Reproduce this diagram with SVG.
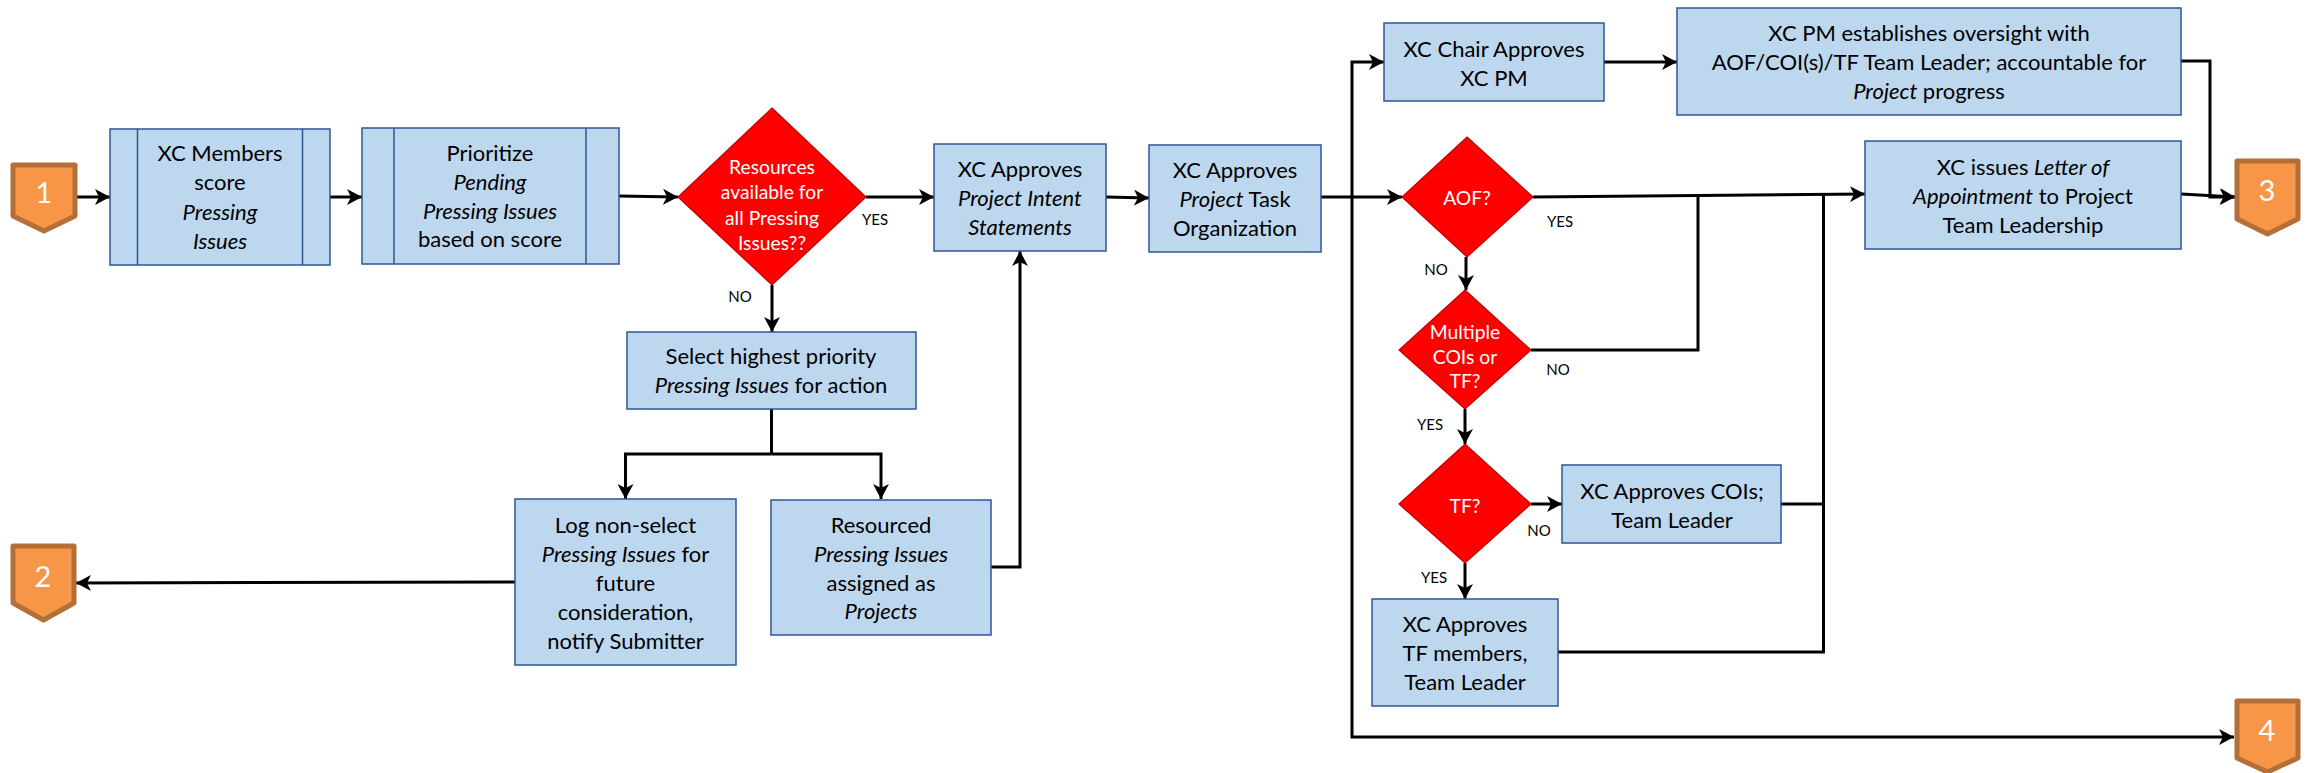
<svg xmlns="http://www.w3.org/2000/svg" width="2307" height="773" viewBox="0 0 2307 773">
<style>
text{font-family:"Lato","Carlito","Liberation Sans",sans-serif;text-anchor:middle}
.t{font-size:22px;fill:#000}
.d{font-size:19.300px;fill:#fff}
.l{font-size:15px;fill:#000}
.n{font-size:29px;fill:#fff}
.b{fill:#BDD7EE;stroke:#2F5597;stroke-width:1.5}
.i{fill:none;stroke:#2F5597;stroke-width:1.5}
.r{fill:#FF0000;stroke:#C00000;stroke-width:1.2}
.g{fill:#F79646;stroke:#B46F38;stroke-width:5;stroke-linejoin:round}
.c{fill:none;stroke:#000;stroke-width:3}
.a{marker-end:url(#ah)}
tspan.e{font-style:italic}
</style>
<defs><marker id="ah" markerUnits="userSpaceOnUse" markerWidth="16" markerHeight="16" refX="15" refY="8" orient="auto"><path d="M0 0L15 8L0 16L4 8Z" fill="#000"/></marker></defs>
<g id="connectors">
<path class="c a" d="M77 197H110"/>
<path class="c a" d="M330 197H362"/>
<path class="c a" d="M619 196L678 197"/>
<path class="c a" d="M866 197H934"/>
<path class="c a" d="M772 285V332"/>
<path class="c a" d="M1106 197L1149 198"/>
<path class="c" d="M771.5 409V454"/>
<path class="c a" d="M771.5 454H625.5V499"/>
<path class="c a" d="M771.5 454H881V499"/>
<path class="c a" d="M991 567H1020V251"/>
<path class="c a" d="M515 582L76 583"/>
<path class="c a" d="M1321 197L1402 197"/>
<path class="c a" d="M1352 197V62H1384"/>
<path class="c a" d="M1352 197V737H2234"/>
<path class="c a" d="M1604 62H1677"/>
<path class="c a" d="M2181 61H2210V197H2235"/>
<path class="c a" d="M2181 194L2235 197"/>
<path class="c a" d="M1533 197L1865 194"/>
<path class="c a" d="M1466 257V290"/>
<path class="c" d="M1531 350H1698V195"/>
<path class="c a" d="M1465 409V444"/>
<path class="c a" d="M1531 504H1562"/>
<path class="c a" d="M1465 563V599"/>
<path class="c" d="M1781 504H1823.5"/>
<path class="c" d="M1558 652H1823.5V194"/>
</g>
<g id="badge1"><path class="g" d="M13 165H75V216L44 231L13 216Z"/><text class="n" x="44" y="203">1</text></g>
<g id="badge2"><path class="g" d="M13 546H74V603L43.500 620L13 603Z"/><text class="n" x="43" y="587">2</text></g>
<g id="badge3"><path class="g" d="M2237 161H2298V219L2267.500 234L2237 219Z"/><text class="n" x="2267" y="201">3</text></g>
<g id="badge4"><path class="g" d="M2237 701H2298V758L2267.500 772L2237 758Z"/><text class="n" x="2267" y="741">4</text></g>
<g id="score"><rect class="b" x="110" y="129" width="220" height="136"/><path class="i" d="M137.500 129V265M302.500 129V265"/>
<text class="t" x="220" y="161">XC Members</text><text class="t" x="220" y="190">score</text><text class="t" x="220" y="220"><tspan class="e">Pressing</tspan></text><text class="t" x="220" y="249"><tspan class="e">Issues</tspan></text></g>
<g id="prioritize"><rect class="b" x="362" y="128" width="257" height="136"/><path class="i" d="M394 128V264M586 128V264"/>
<text class="t" x="490" y="161">Prioritize</text><text class="t" x="490" y="190"><tspan class="e">Pending</tspan></text><text class="t" x="490" y="219"><tspan class="e">Pressing Issues</tspan></text><text class="t" x="490" y="247">based on score</text></g>
<g id="resources"><path class="r" d="M772 108L866 197L772 285L678 197Z"/>
<text class="d" x="772" y="174">Resources</text><text class="d" x="772" y="199">available for</text><text class="d" x="772" y="225">all Pressing</text><text class="d" x="772" y="250">Issues??</text></g>
<g id="select"><rect class="b" x="627" y="332" width="289" height="77"/>
<text class="t" x="771" y="364">Select highest priority</text><text class="t" x="771" y="393"><tspan class="e">Pressing Issues</tspan> for action</text></g>
<g id="log"><rect class="b" x="515" y="499" width="221" height="166"/>
<text class="t" x="625.500" y="533">Log non-select</text><text class="t" x="625.500" y="562"><tspan class="e">Pressing Issues</tspan> for</text><text class="t" x="625.500" y="591">future</text><text class="t" x="625.500" y="620">consideration,</text><text class="t" x="625.500" y="649">notify Submitter</text></g>
<g id="resourced"><rect class="b" x="771" y="500" width="220" height="135"/>
<text class="t" x="881" y="533">Resourced</text><text class="t" x="881" y="562"><tspan class="e">Pressing Issues</tspan></text><text class="t" x="881" y="591">assigned as</text><text class="t" x="881" y="619"><tspan class="e">Projects</tspan></text></g>
<g id="intent"><rect class="b" x="934" y="144" width="172" height="107"/>
<text class="t" x="1020" y="177">XC Approves</text><text class="t" x="1020" y="206"><tspan class="e">Project Intent</tspan></text><text class="t" x="1020" y="235"><tspan class="e">Statements</tspan></text></g>
<g id="task"><rect class="b" x="1149" y="145" width="172" height="107"/>
<text class="t" x="1235" y="178">XC Approves</text><text class="t" x="1235" y="207"><tspan class="e">Project</tspan> Task</text><text class="t" x="1235" y="236">Organization</text></g>
<g id="chair"><rect class="b" x="1384" y="23" width="220" height="78"/>
<text class="t" x="1494" y="57">XC Chair Approves</text><text class="t" x="1494" y="86">XC PM</text></g>
<g id="pm"><rect class="b" x="1677" y="8" width="504" height="107"/>
<text class="t" x="1929" y="41">XC PM establishes oversight with</text><text class="t" x="1929" y="70">AOF/COI(s)/TF Team Leader; accountable for</text><text class="t" x="1929" y="99"><tspan class="e">Project</tspan> progress</text></g>
<g id="letter"><rect class="b" x="1865" y="141" width="316" height="108"/>
<text class="t" x="2023" y="175">XC issues <tspan class="e">Letter of</tspan></text><text class="t" x="2023" y="204"><tspan class="e">Appointment</tspan> to Project</text><text class="t" x="2023" y="233">Team Leadership</text></g>
<g id="aof"><path class="r" d="M1467 137L1533 197L1467 257L1402 197Z"/><text class="d" x="1467" y="205">AOF?</text></g>
<g id="multiple"><path class="r" d="M1465 290L1531 350L1465 409L1399 350Z"/>
<text class="d" x="1465" y="339">Multiple</text><text class="d" x="1465" y="364">COIs or</text><text class="d" x="1465" y="388">TF?</text></g>
<g id="tf"><path class="r" d="M1465 444L1531 504L1465 563L1399 504Z"/><text class="d" x="1465" y="513">TF?</text></g>
<g id="cois"><rect class="b" x="1562" y="465" width="219" height="78"/>
<text class="t" x="1672" y="499">XC Approves COIs;</text><text class="t" x="1672" y="528">Team Leader</text></g>
<g id="tfmembers"><rect class="b" x="1372" y="599" width="186" height="107"/>
<text class="t" x="1465" y="632">XC Approves</text><text class="t" x="1465" y="661">TF members,</text><text class="t" x="1465" y="690">Team Leader</text></g>
<g id="labels">
<text class="l" x="875" y="225">YES</text><text class="l" x="740" y="302">NO</text>
<text class="l" x="1560" y="227">YES</text><text class="l" x="1436" y="275">NO</text>
<text class="l" x="1558" y="375">NO</text><text class="l" x="1430" y="430">YES</text>
<text class="l" x="1539" y="536">NO</text><text class="l" x="1434" y="583">YES</text>
</g>
</svg>
